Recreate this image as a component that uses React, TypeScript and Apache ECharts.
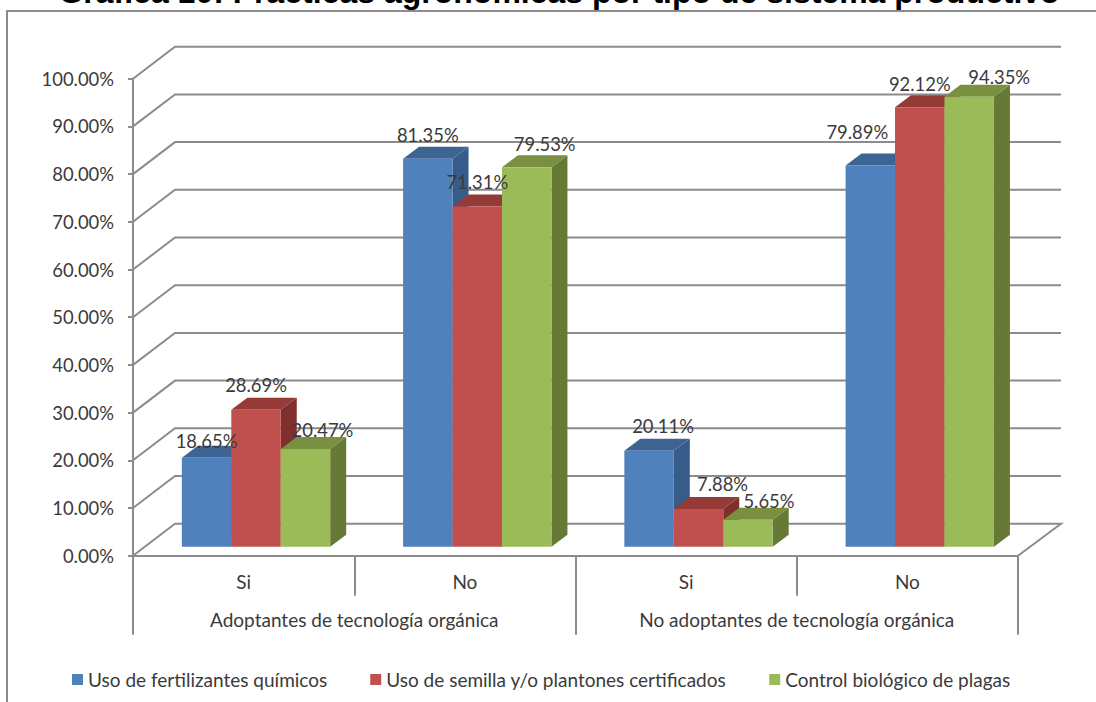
import React, { useEffect, useRef } from "react";
import * as echarts from "echarts";

const titleText = "Gráfica 10: Prácticas agronómicas por tipo de sistema productivo";
const answerLabels = ["Si", "No", "Si", "No"];
const groupLabels = ["Adoptantes de tecnología orgánica", "No adoptantes de tecnología orgánica"];
const seriesNames = [
  "Uso de fertilizantes químicos",
  "Uso de semilla y/o plantones certificados",
  "Control biológico de plagas",
];
const fertilizantes = [18.65, 81.35, 20.11, 79.89];
const semilla = [28.69, 71.31, 7.88, 92.12];
const controlBiologico = [20.47, 79.53, 5.65, 94.35];
const gridTicks = [0, 10, 20, 30, 40, 50, 60, 70, 80, 90, 100];

const seriesValues = [fertilizantes, semilla, controlBiologico];

// Front, top and side shades of each bar colour.
const barShades = [
  { front: "#4F81BD", top: "#3E6494", side: "#375C8A" },
  { front: "#C0504D", top: "#963A38", side: "#7F2F2D" },
  { front: "#9BBB59", top: "#789040", side: "#667A36" },
];

// Hand placement of each value label relative to the top centre of its bar.
const labelNudges = [
  [[0, -17], [0, -24], [14, -25], [-13, -34]],
  [[0, -25], [0, -25], [24, -25], [0, -23]],
  [[17, -19], [18, -23], [21, -19], [30, -20]],
];

const LABEL_FONT = "Lato, Carlito, sans-serif";
const NUMBER_SIZE = 18.4;
const TEXT_SIZE = 19;
const AXIS_GREY = "#8C8C8C";
const TEXT_GREY = "#3A3A3A";
const WALL_DX = 42;
const WALL_DY = 32;
const WALL_RIGHT_DX = 43;
const BAR_DX = 16;
const BAR_DY = 12;
const FLOOR_LIFT = 9;

function renderWallLine(params: any, api: any) {
  const sys = params.coordSys;
  const y = api.coord([0, api.value(1)])[1];
  const left = sys.x;
  const right = sys.x + sys.width;
  const points = [
    [left, y],
    [left + WALL_DX, y - WALL_DY],
    [right + WALL_RIGHT_DX, y - WALL_DY],
  ];
  if (api.value(1) === 0) points.push([right, y]);
  return {
    type: "polyline",
    shape: { points },
    style: { stroke: AXIS_GREY, lineWidth: 2, fill: "none" },
  };
}

function makeBarRenderer(seriesIndex: number) {
  return (params: any, api: any) => {
    const cat = api.value(0);
    const val = api.value(1);
    const band = api.size([1, 0])[0];
    const width = band * 0.2235;
    const centre = api.coord([cat, 0])[0] + band * 0.056;
    const x0 = centre - 1.5 * width + seriesIndex * width;
    const x1 = x0 + width;
    const floor = api.coord([cat, 0])[1] - FLOOR_LIFT;
    const top = api.coord([cat, val])[1] - FLOOR_LIFT;
    const shade = barShades[seriesIndex];
    const nudge = labelNudges[seriesIndex][cat];
    return {
      type: "group",
      children: [
        {
          type: "polygon",
          shape: { points: [[x1, top], [x1 + BAR_DX, top - BAR_DY], [x1 + BAR_DX, floor - BAR_DY], [x1, floor]] },
          style: { fill: shade.side },
        },
        {
          type: "polygon",
          shape: { points: [[x0, top], [x0 + BAR_DX, top - BAR_DY], [x1 + BAR_DX, top - BAR_DY], [x1, top]] },
          style: { fill: shade.top },
        },
        {
          type: "rect",
          shape: { x: x0, y: top, width, height: floor - top },
          style: { fill: shade.front },
        },
        {
          type: "text",
          z2: 100,
          x: (x0 + x1) / 2 + nudge[0],
          y: top + nudge[1],
          style: {
            text: val.toFixed(2) + "%",
            fill: TEXT_GREY,
            font: `${NUMBER_SIZE}px ${LABEL_FONT}`,
            align: "center",
            verticalAlign: "middle",
          },
        },
      ],
    };
  };
}

export default function App() {
  const ref = useRef<HTMLDivElement>(null);

  useEffect(() => {
    const chart = echarts.init(ref.current!, undefined, { renderer: "svg" });
    chart.setOption({
      animation: false,
      backgroundColor: "#FFFFFF",
      title: {
        text: titleText,
        left: 559,
        textAlign: "center",
        top: -24,
        padding: 0,
        textStyle: {
          fontFamily: "Liberation Sans, Arial, sans-serif",
          fontWeight: "bold",
          fontSize: 32,
          color: "#000000",
        },
      },
      graphic: [
        {
          type: "polyline",
          shape: { points: [[7, 720], [7, 11], [1110, 11]] },
          style: { stroke: AXIS_GREY, lineWidth: 2, fill: "none" },
          silent: true,
        },
      ],
      legend: {
        left: 72,
        top: 670,
        icon: "rect",
        itemWidth: 11,
        itemHeight: 11,
        itemGap: 43,
        padding: 0,
        selectedMode: false,
        data: seriesNames,
        textStyle: { fontFamily: LABEL_FONT, fontSize: TEXT_SIZE, color: TEXT_GREY },
      },
      grid: { left: 133, top: 78.7, width: 885, height: 477 },
      xAxis: [
        {
          type: "category",
          data: answerLabels,
          position: "bottom",
          axisLine: { show: true, lineStyle: { color: AXIS_GREY, width: 2 } },
          axisTick: { show: true, length: 40, lineStyle: { color: AXIS_GREY, width: 2 } },
          axisLabel: { margin: 16, interval: 0, fontFamily: LABEL_FONT, fontSize: TEXT_SIZE, color: TEXT_GREY },
        },
        {
          type: "category",
          data: groupLabels,
          position: "bottom",
          axisLine: { show: false },
          axisTick: { show: true, length: 79, lineStyle: { color: AXIS_GREY, width: 2 } },
          axisLabel: { margin: 54, interval: 0, fontFamily: LABEL_FONT, fontSize: TEXT_SIZE, color: TEXT_GREY },
        },
      ],
      yAxis: {
        type: "value",
        min: 0,
        max: 100,
        interval: 10,
        axisLine: { show: true, lineStyle: { color: AXIS_GREY, width: 2 } },
        axisTick: { show: true, length: 5, lineStyle: { color: AXIS_GREY, width: 2 } },
        splitLine: { show: false },
        axisLabel: {
          margin: 19,
          formatter: (v: number) => v.toFixed(2) + "%",
          fontFamily: LABEL_FONT,
          fontSize: NUMBER_SIZE,
          color: TEXT_GREY,
        },
      },
      series: [
        {
          type: "custom",
          silent: true,
          z: 1,
          clip: false,
          renderItem: renderWallLine,
          encode: { x: 0, y: 1 },
          data: gridTicks.map((t) => [0, t]),
        },
        ...seriesNames.map((name, k) => ({
          type: "custom",
          name,
          z: 2,
          clip: false,
          itemStyle: { color: barShades[k].front },
          renderItem: makeBarRenderer(k),
          encode: { x: 0, y: 1 },
          data: seriesValues[k].map((v, i) => [i, v]),
        })),
      ],
    });
    return () => chart.dispose();
  }, []);

  return (
    <div
      ref={ref}
      style={{ position: "fixed", left: 0, top: 0, width: 1096, height: 702, background: "#FFFFFF" }}
    />
  );
}
